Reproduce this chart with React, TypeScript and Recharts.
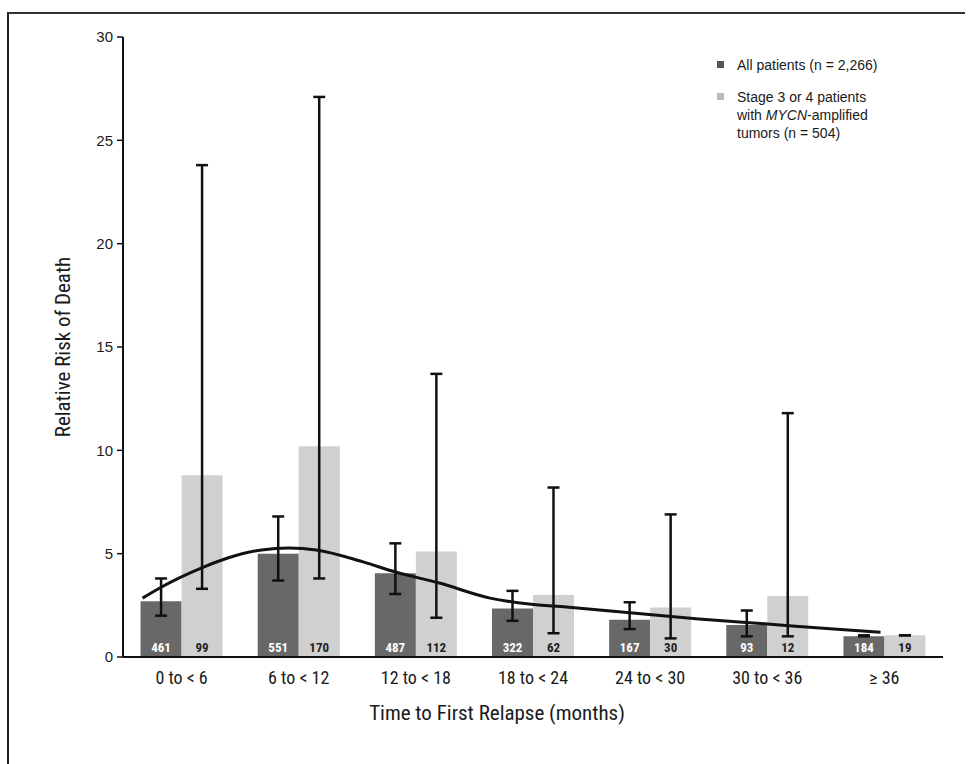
import React from 'react';
import { ComposedChart, Bar, Line, XAxis, YAxis, ErrorBar, LabelList } from 'recharts';

const categories = ['0 to < 6', '6 to < 12', '12 to < 18', '18 to < 24', '24 to < 30', '30 to < 36', '\u2265 36'];

// All patients (n = 2,266)
const allRisk = [2.7, 5.0, 4.05, 2.35, 1.8, 1.55, 1.0];
const allLow = [2.0, 3.7, 3.05, 1.75, 1.35, 1.0, 1.0];
const allHigh = [3.8, 6.8, 5.5, 3.2, 2.65, 2.25, 1.05];
const allN = [461, 551, 487, 322, 167, 93, 184];

// Stage 3 or 4 patients with MYCN-amplified tumors (n = 504)
const stageRisk = [8.8, 10.2, 5.1, 3.0, 2.4, 2.95, 1.05];
const stageLow = [3.3, 3.8, 1.9, 1.15, 0.9, 1.0, 1.05];
const stageHigh = [23.8, 27.1, 13.7, 8.2, 6.9, 11.8, 1.05];
const stageN = [99, 170, 112, 62, 30, 12, 19];

// Fitted curve (months since relapse, relative risk)
const curveMonths = [1, 2, 4, 5.4, 7.1, 8.5, 9.9, 12.3, 14, 16.2, 18.8, 20.8, 22.7, 26.1, 29.5, 33, 36.4, 38.8];
const curveRisk = [2.85, 3.4, 4.3, 4.8, 5.18, 5.27, 5.18, 4.6, 4.1, 3.58, 2.85, 2.56, 2.42, 2.13, 1.84, 1.6, 1.35, 1.2];

const yTicks = [0, 5, 10, 15, 20, 25, 30];

const data = categories.map((cat, i) => ({
  cat,
  all: allRisk[i],
  allErr: [allRisk[i] - allLow[i], allHigh[i] - allRisk[i]],
  allN: allN[i],
  stage: stageRisk[i],
  stageErr: [stageRisk[i] - stageLow[i], stageHigh[i] - stageRisk[i]],
  stageN: stageN[i],
}));

const curveData = curveMonths.map((m, i) => ({ month: m, risk: curveRisk[i] }));

const NARROW = '"Liberation Sans Narrow", "Roboto Condensed", Roboto, "Liberation Sans", Arial, sans-serif';
const ARIAL = '"Liberation Sans", Arial, sans-serif';

const makeBarLabel = (fill: string) => (props: any) => {
  const { x, y, width, height, value } = props;
  return (
    <text
      x={x + width / 2}
      y={y + height - 5}
      textAnchor="middle"
      fontFamily={NARROW}
      fontSize={13}
      fontWeight="bold"
      fill={fill}
    >
      {value}
    </text>
  );
};

const YTitle = (props: any) => {
  const vb = props.viewBox || {};
  const cx = 63;
  const cy = vb.y + vb.height / 2;
  return (
    <text
      x={cx}
      y={cy}
      transform={`rotate(-90, ${cx}, ${cy})`}
      textAnchor="middle"
      dominantBaseline="central"
      fontFamily={NARROW}
      fontSize={21}
      fill="#1a1a1a"
    >
      Relative Risk of Death
    </text>
  );
};

const XTitle = () => (
  <text x={497} y={720} textAnchor="middle" fontFamily={NARROW} fontSize={21} fill="#1a1a1a">
    Time to First Relapse (months)
  </text>
);

export default function App() {
  return (
    <div style={{ position: 'absolute', left: 0, top: 0, width: 970, height: 764, background: '#fff', overflow: 'hidden' }}>
      <div
        style={{
          position: 'absolute',
          left: 7,
          top: 12,
          width: 958,
          height: 752,
          borderTop: '2px solid #333',
          borderLeft: '2px solid #222',
          boxSizing: 'border-box',
        }}
      />
      <ComposedChart
        width={970}
        height={764}
        data={data}
        margin={{ top: 37, right: 27, bottom: 0, left: 63 }}
        barCategoryGap="15%"
        barGap={0}
      >
        <XAxis
          dataKey="cat"
          height={107}
          tickLine={false}
          axisLine={{ stroke: '#111', strokeWidth: 2 }}
          tickMargin={8}
          tick={{ fontFamily: NARROW, fontSize: 18, fill: '#1a1a1a' }}
          interval={0}
          label={<XTitle />}
        />
        <XAxis xAxisId="m" type="number" dataKey="month" domain={[0, 42]} allowDataOverflow hide />
        <YAxis
          width={60}
          domain={[0, 30]}
          ticks={yTicks}
          interval={0}
          tickSize={6}
          tickMargin={4}
          axisLine={{ stroke: '#111', strokeWidth: 2 }}
          tickLine={{ stroke: '#111', strokeWidth: 1.5 }}
          tick={{ fontFamily: ARIAL, fontSize: 15, fill: '#1a1a1a' }}
          label={<YTitle />}
        />
        <Bar dataKey="all" fill="#686868" isAnimationActive={false}>
          <ErrorBar dataKey="allErr" width={6} stroke="#111" strokeWidth={2.5} direction="y" />
          <LabelList dataKey="allN" content={makeBarLabel('#ffffff')} />
        </Bar>
        <Bar dataKey="stage" fill="#d0d0d0" isAnimationActive={false}>
          <ErrorBar dataKey="stageErr" width={6} stroke="#111" strokeWidth={2.5} direction="y" />
          <LabelList dataKey="stageN" content={makeBarLabel('#222222')} />
        </Bar>
        <Line
          xAxisId="m"
          data={curveData}
          dataKey="risk"
          type="monotone"
          dot={false}
          stroke="#111"
          strokeWidth={3}
          isAnimationActive={false}
        />
      </ComposedChart>
      <div
        style={{
          position: 'absolute',
          left: 717,
          top: 56,
          fontFamily: ARIAL,
          fontSize: 14,
          lineHeight: '18px',
          color: '#1a1a1a',
        }}
      >
        <div style={{ display: 'flex', alignItems: 'flex-start' }}>
          <span style={{ display: 'inline-block', width: 7, height: 7, background: '#555', marginTop: 5, marginRight: 13 }} />
          <span>All patients (n = 2,266)</span>
        </div>
        <div style={{ display: 'flex', alignItems: 'flex-start', marginTop: 14 }}>
          <span style={{ display: 'inline-block', width: 7, height: 7, background: '#bbb', marginTop: 5, marginRight: 13 }} />
          <span>
            Stage 3 or 4 patients
            <br />
            with <i>MYCN</i>-amplified
            <br />
            tumors (n = 504)
          </span>
        </div>
      </div>
    </div>
  );
}
